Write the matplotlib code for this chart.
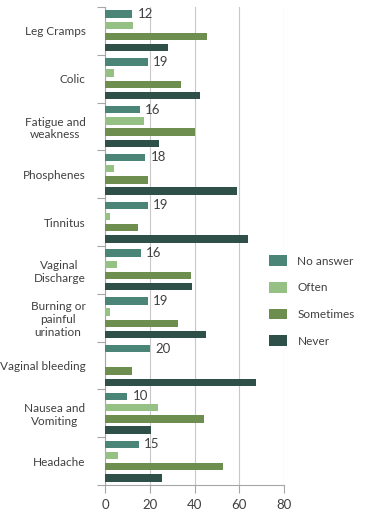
import numpy as np
import matplotlib.pyplot as plt

plt.rcParams['font.family'] = ['Lato', 'DejaVu Sans']

categories = ["Leg Cramps", "Colic", "Fatigue and\nweakness", "Phosphenes", "Tinnitus",
              "Vaginal\nDischarge", "Burning or\npainful\nurination", "Vaginal bleeding",
              "Nausea and\nVomiting", "Headache"]
series = ["No answer", "Often", "Sometimes", "Never"]
no_answer = [12, 19, 15.5, 18, 19, 16, 19, 20, 10, 15]
often = [12.6, 4, 17.5, 4.2, 2.2, 5.5, 2.4, 0, 23.6, 5.8]
sometimes = [45.4, 33.8, 40.4, 19, 14.9, 38.6, 32.6, 12, 44.4, 52.8]
never = [28.3, 42.6, 24.2, 59.2, 64, 38.9, 45, 67.6, 20.5, 25.4]
no_answer_labels = ["12", "19", "16", "18", "19", "16", "19", "20", "10", "15"]

colors = ["#4b8578", "#95c284", "#6d8e4f", "#2e5048"]
text_color = "#404040"

fig = plt.figure(figsize=(3.69, 5.14), dpi=100)
ax = fig.add_axes([105/369, 1 - 485/514, 179/369, 478/514])

y = np.arange(len(categories))
offsets = [-0.3525, -0.1175, 0.1175, 0.3525]
values = [no_answer, often, sometimes, never]
for vals, off, col, name in zip(values, offsets, colors, series):
    ax.barh(y + off, vals, height=0.155, color=col, label=name, zorder=3)

# value labels on the "No answer" bars
for yi, v, lab in zip(y, no_answer, no_answer_labels):
    ax.annotate(lab, (v, yi + offsets[0]), xytext=(4, 0), textcoords='offset points',
                va='center', ha='left', fontsize=9.5, color=text_color)

ax.set_ylim(len(categories) - 0.5, -0.5)
ax.set_xlim(0, 80)
ax.set_xticks([0, 20, 40, 60, 80])
ax.grid(axis='x', color='#c8c8c8', linewidth=0.8, zorder=0)

ax.set_yticks(y)
ax.set_yticklabels(categories, ha='right', multialignment='center')
ax.set_yticks(np.arange(len(categories) + 1) - 0.5, minor=True)
ax.tick_params(axis='y', which='major', length=0, pad=14, labelsize=8.5, labelcolor=text_color)
ax.tick_params(axis='y', which='minor', length=6, color='#a6a6a6', width=0.8)
ax.tick_params(axis='x', length=6, color='#a6a6a6', width=0.8, labelsize=9.5,
               labelcolor=text_color, pad=4)

for s in ['top', 'right']:
    ax.spines[s].set_visible(False)
for s in ['left', 'bottom']:
    ax.spines[s].set_color('#a6a6a6')
    ax.spines[s].set_linewidth(0.8)

leg = ax.legend(loc='center left', bbox_to_anchor=(265/369, 1 - 301/514),
                bbox_transform=fig.transFigure, frameon=True, fontsize=8.5,
                handlelength=1.6, handleheight=1.0, handletextpad=0.85,
                labelspacing=1.3, borderpad=0.3, borderaxespad=0)
leg.get_frame().set_facecolor('white')
leg.get_frame().set_edgecolor('none')
leg.get_frame().set_alpha(1)
for t in leg.get_texts():
    t.set_color(text_color)
leg.set_zorder(5)

fig.savefig("out.png", dpi=100)
